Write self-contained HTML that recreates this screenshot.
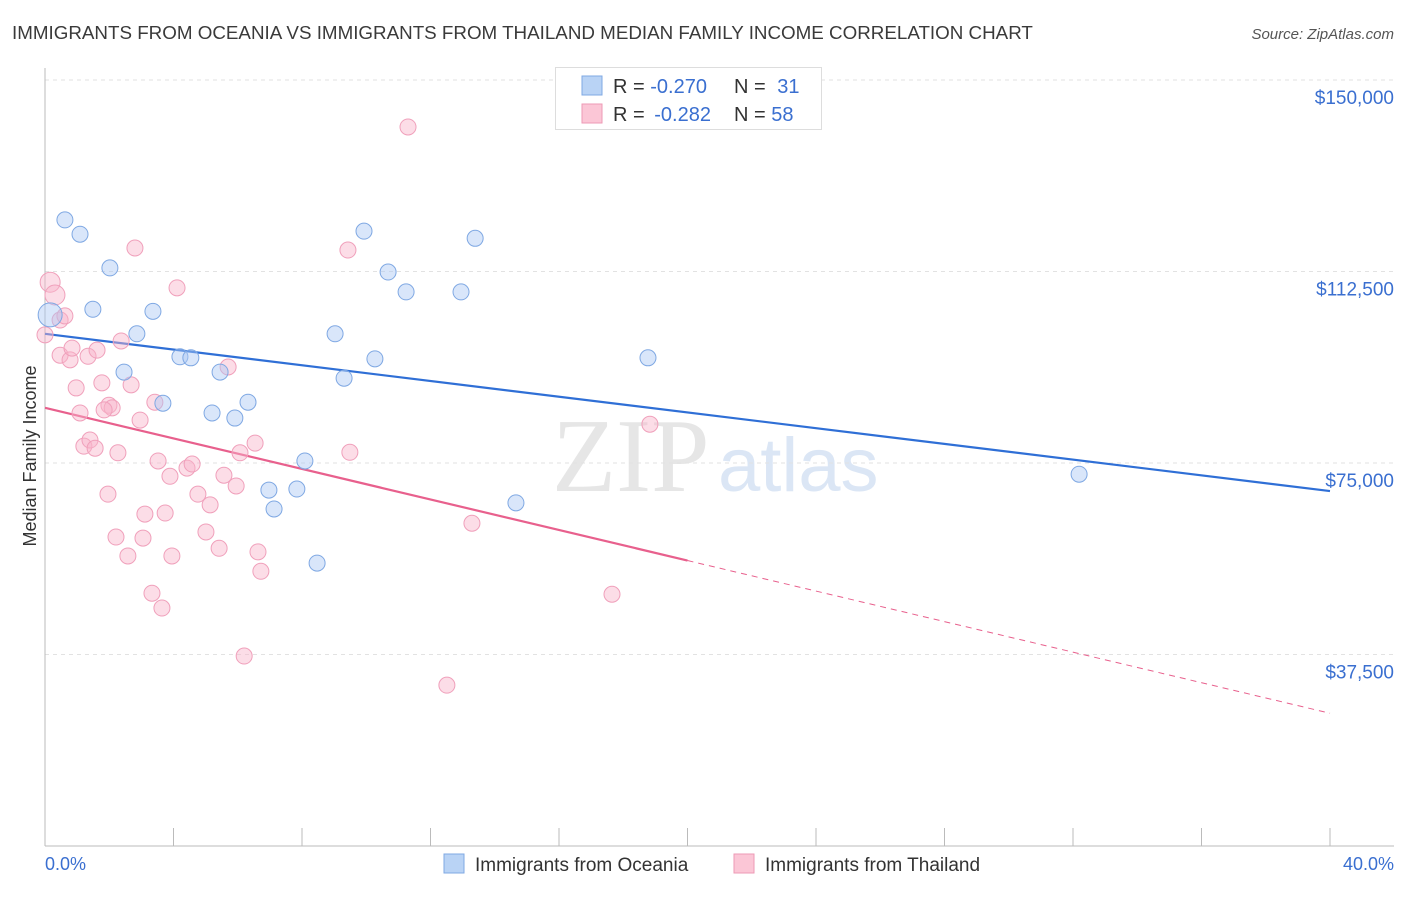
<!DOCTYPE html>
<html><head><meta charset="utf-8"><style>
body{margin:0;background:#fff;font-family:"Liberation Sans",sans-serif;}
svg text{font-family:"Liberation Sans",sans-serif;}
</style></head><body>
<svg id="chart" width="1406" height="892">
<text x="12" y="39" font-size="18.8" fill="#3a3a3a">IMMIGRANTS FROM OCEANIA VS IMMIGRANTS FROM THAILAND MEDIAN FAMILY INCOME CORRELATION CHART</text>
<text x="1394" y="39" font-size="15" fill="#555" font-style="italic" text-anchor="end">Source: ZipAtlas.com</text>
<text x="552" y="491" font-size="105" fill="#e6e6e6" style="font-family:'Liberation Serif',serif">ZIP</text>
<text x="718" y="491" font-size="76" fill="#dbe6f5">atlas</text>
<g id="grid"></g>
<g id="axes"></g>
<g id="lines"></g>
<g id="points"></g>
<text x="36" y="456" font-size="18" fill="#333" text-anchor="middle" transform="rotate(-90 36 456)">Median Family Income</text>
<text x="45" y="870" font-size="18" fill="#3a6fd0">0.0%</text>
<text x="1394" y="870" font-size="18" fill="#3a6fd0" text-anchor="end">40.0%</text>
<g>
<rect x="555.5" y="67.5" width="266" height="62" fill="#fff" stroke="#ddd"/>
<rect x="582" y="76" width="20" height="19" fill="#b9d3f5" stroke="#7fa8e3"/>
<rect x="582" y="104" width="20" height="19" fill="#fbc6d6" stroke="#ee9ab5"/>
<text x="613" y="93" font-size="20" fill="#333">R = <tspan fill="#3a6fd0">-0.270</tspan></text>
<text x="734" y="93" font-size="20" fill="#333">N = <tspan fill="#3a6fd0" dx="6">31</tspan></text>
<text x="613" y="121" font-size="20" fill="#333">R = <tspan fill="#3a6fd0" dx="4">-0.282</tspan></text>
<text x="734" y="121" font-size="20" fill="#333">N = <tspan fill="#3a6fd0">58</tspan></text>
</g>
<g>
<rect x="444" y="854" width="20" height="19" fill="#b9d3f5" stroke="#7fa8e3"/>
<text x="475" y="871" font-size="19" fill="#333">Immigrants from Oceania</text>
<rect x="734" y="854" width="20" height="19" fill="#fbc6d6" stroke="#ee9ab5"/>
<text x="765" y="871" font-size="19" fill="#333">Immigrants from Thailand</text>
</g>
</svg>
<script>
const yTicks=[37500,75000,112500,150000];
const yTickLabels=["$37,500","$75,000","$112,500","$150,000"];
const xTicks=[0,4,8,12,16,20,24,28,32,36,40];
const oceaniaX=[0.62,1.09,2.02,1.49,3.36,2.86,4.20,4.54,2.46,5.45,3.67,5.20,5.91,6.32,9.03,9.31,10.27,9.93,10.68,11.24,12.95,13.39,6.97,7.84,7.13,8.09,8.47,14.66,18.77,32.19,0.16];
const oceaniaY=[122.6,119.8,113.2,105.1,104.7,100.3,95.8,95.6,92.8,92.8,86.7,84.8,83.8,86.9,100.3,91.6,95.4,120.4,112.4,108.5,108.5,119.0,69.7,69.9,66.0,75.4,55.4,67.2,95.6,72.8,104.0];
const thaiX=[0.16,0.31,0.47,0.62,0.0,0.47,0.78,0.84,1.34,1.62,0.97,1.09,1.21,1.40,1.56,1.77,1.99,2.09,1.84,2.27,2.37,2.68,2.80,2.96,2.58,3.05,3.11,3.33,3.42,3.52,3.64,3.74,3.89,3.95,4.11,4.42,4.58,4.76,5.01,5.14,5.42,5.57,5.70,5.95,6.07,6.20,6.54,6.63,6.72,9.43,9.49,11.30,12.51,13.29,17.65,18.83,1.96,2.21];
const thaiY=[110.4,107.9,103.0,103.8,100.1,96.1,95.2,97.5,95.9,97.1,89.7,84.8,78.3,79.5,77.9,90.7,86.3,85.8,85.4,77.0,98.9,90.3,117.1,83.4,56.8,60.3,65.0,49.5,86.9,75.4,46.6,65.2,72.4,56.8,109.3,74.0,74.8,68.9,61.5,66.8,58.3,72.6,93.8,70.5,77.0,37.2,78.9,57.6,53.8,116.7,77.1,140.8,31.5,63.2,49.3,82.6,68.9,60.5];
const oceaniaTrend=[100.3,69.5];
const thaiTrend=[85.8,26.0];
const thaiSolidEnd=20;
const NS="http://www.w3.org/2000/svg";
const xs=v=>45+v/40*1285;
const ys=k=>846-k*1000/37500*191.5;
function mk(tag,attrs,parent){const e=document.createElementNS(NS,tag);for(const k in attrs)e.setAttribute(k,attrs[k]);parent.appendChild(e);return e;}
const grid=document.getElementById('grid'),axes=document.getElementById('axes');
yTicks.forEach((t,i)=>{
 const y=ys(t/1000);
 const l=mk('line',{x1:45,x2:1394,y1:y,y2:y,stroke:'#e2e2e2','stroke-dasharray':'4,4'},grid);
 
 
 const tx=mk('text',{x:1394,y:y+24,'font-size':19,fill:'#3a6fd0','text-anchor':'end'},axes);
 tx.textContent=yTickLabels[i];
 
 
});
const ya=mk('line',{x1:45,x2:45,y1:68,y2:846,stroke:'#bbb'},axes);


const xa=mk('line',{x1:45,x2:1394,y1:846,y2:846,stroke:'#bbb'},axes);


xTicks.forEach(t=>{
 const tk=mk('line',{x1:xs(t),x2:xs(t),y1:828,y2:846,stroke:'#bbb'},axes);
 
 
});
const lines=document.getElementById('lines');
const bl=mk('line',{x1:xs(0),y1:ys(oceaniaTrend[0]),x2:xs(40),y2:ys(oceaniaTrend[1]),stroke:'#2f6fd6','stroke-width':2.2},lines);


const tAt=x=>thaiTrend[0]+(thaiTrend[1]-thaiTrend[0])*x/40;
const pl=mk('line',{x1:xs(0),y1:ys(tAt(0)),x2:xs(thaiSolidEnd),y2:ys(tAt(thaiSolidEnd)),stroke:'#e8608d','stroke-width':2.2},lines);


const pd=mk('line',{x1:xs(thaiSolidEnd),y1:ys(tAt(thaiSolidEnd)),x2:xs(40),y2:ys(tAt(40)),stroke:'#e8608d','stroke-width':1,'stroke-dasharray':'6,5'},lines);


const pts=document.getElementById('points');
thaiX.forEach((x,i)=>{
 const c=mk('circle',{cx:xs(x),cy:ys(thaiY[i]),r:i<2?10:8,fill:'rgba(248,180,202,0.45)',stroke:'#f0a0bb','stroke-width':1},pts);
 
 
});
oceaniaX.forEach((x,i)=>{
 const c=mk('circle',{cx:xs(x),cy:ys(oceaniaY[i]),r:i==30?12:8,fill:'rgba(170,200,243,0.45)',stroke:'#7fa8e3','stroke-width':1},pts);
 
 
});
</script>
</body></html>
